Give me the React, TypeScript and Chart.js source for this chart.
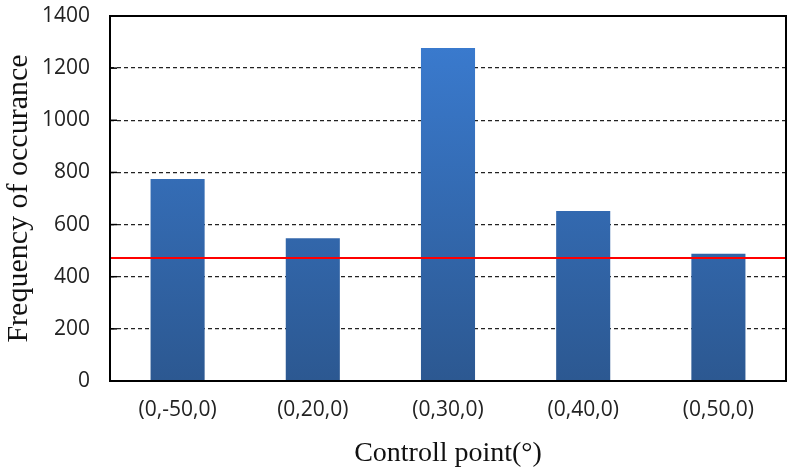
import React, { useEffect, useRef } from "react";
import { Chart, registerables } from "chart.js";

Chart.register(...registerables);

const categories = ["(0,-50,0)", "(0,20,0)", "(0,30,0)", "(0,40,0)", "(0,50,0)"];
const frequencies = [775, 548, 1277, 652, 488];
const thresholdValue = 472;
const yTicks = [0, 200, 400, 600, 800, 1000, 1200, 1400];
const xTitle = "Controll point(°)";
const yTitle = "Frequency of occurance";

const frameAndLinePlugin = {
  id: "frameAndLine",
  afterDatasetsDraw(chart: any) {
    const { ctx, chartArea, scales } = chart;
    const y = scales.y.getPixelForValue(thresholdValue);
    ctx.save();
    ctx.strokeStyle = "#000";
    ctx.lineWidth = 1.5;
    yTicks.forEach((v) => {
      const ty = scales.y.getPixelForValue(v);
      ctx.beginPath();
      ctx.moveTo(chartArea.left, ty);
      ctx.lineTo(chartArea.left + 7, ty);
      ctx.stroke();
    });
    ctx.strokeStyle = "#ff0000";
    ctx.lineWidth = 2;
    ctx.beginPath();
    ctx.moveTo(chartArea.left, y);
    ctx.lineTo(chartArea.right, y);
    ctx.stroke();
    ctx.strokeStyle = "#000";
    ctx.lineWidth = 2;
    ctx.strokeRect(chartArea.left, chartArea.top, chartArea.right - chartArea.left, chartArea.bottom - chartArea.top);
    ctx.restore();
  },
};

export default function App() {
  const ref = useRef<HTMLCanvasElement>(null);
  useEffect(() => {
    const canvas = ref.current!;
    const chart = new Chart(canvas, {
      type: "bar",
      data: {
        labels: categories,
        datasets: [
          {
            data: frequencies,
            backgroundColor: (c: any) => {
              const { chart } = c;
              const area = chart.chartArea;
              if (!area) return "#3670bd";
              const g = chart.ctx.createLinearGradient(0, area.top, 0, area.bottom);
              g.addColorStop(0, "#3b7dd3");
              g.addColorStop(1, "#2c5891");
              return g;
            },
            categoryPercentage: 0.4,
            barPercentage: 1,
            borderWidth: 0,
          },
        ],
      },
      options: {
        animation: false,
        responsive: false,
        maintainAspectRatio: false,
        layout: { padding: { top: 16, right: 8, left: 0, bottom: 0 } },
        plugins: { legend: { display: false }, tooltip: { enabled: false } },
        scales: {
          x: {
            grid: { display: false, drawTicks: false },
            border: { display: false },
            ticks: { color: "#222", font: { family: "Open Sans", size: 21 }, padding: 16 },
            title: {
              display: true,
              text: xTitle,
              color: "#111",
              font: { family: "Liberation Serif", size: 28 },
              padding: { top: 0, bottom: 0 },
            },
            afterFit: (s: any) => { s.height = 89; s.paddingLeft = 0; s.paddingRight = 0; },
          },
          y: {
            min: 0,
            max: 1400,
            afterBuildTicks: (s: any) => { s.ticks = yTicks.map((v) => ({ value: v })); },
            grid: {
              color: (c: any) => (c.tick && (c.tick.value === 0 || c.tick.value === 1400) ? "rgba(0,0,0,0)" : "#222"),
              lineWidth: 1.3,
              drawTicks: false,
            },
            border: { display: false, dash: [4, 3] },
            ticks: {
              color: "#222",
              font: { family: "Open Sans", size: 21 },
              padding: 20,
              callback: (v: any) => String(v),
            },
            title: {
              display: true,
              text: yTitle,
              color: "#111",
              font: { family: "Liberation Serif", size: 30 },
              padding: { top: 1, bottom: 0 },
            },
            afterFit: (s: any) => { s.width = 110; s.paddingTop = 0; s.paddingBottom = 0; },
          },
        },
      },
      plugins: [frameAndLinePlugin],
    } as any);
    return () => chart.destroy();
  }, []);
  return (
    <div style={{ position: "fixed", left: 0, top: 0, width: 794, height: 470, background: "#fff" }}>
      <canvas ref={ref} width={794} height={470} style={{ width: 794, height: 470 }} />
    </div>
  );
}
